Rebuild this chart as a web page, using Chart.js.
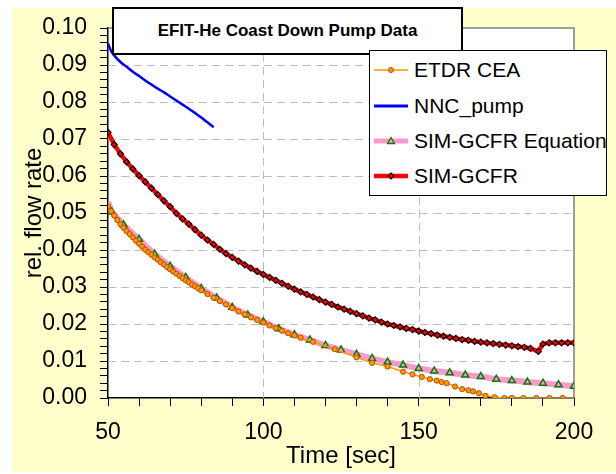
<!DOCTYPE html>
<html>
<head>
<meta charset="utf-8">
<script src="https://cdn.jsdelivr.net/npm/chart.js@4.4.0/dist/chart.umd.min.js"></script>
<style>
  body { margin: 0; background: #fff; }
  #wrap { position: relative; width: 616px; height: 474px; font-family: 'Liberation Sans', Arial, sans-serif; }
  #bg { position: absolute; left: 12px; top: 8px; width: 604px; height: 464px; background: #FFFFCC; }
  #chart { position: absolute; left: 0; top: 0; }
  #title { position: absolute; left: 112px; top: 7px; width: 351px; height: 48px; box-sizing: border-box;
           border: 2px solid #000; background: #fff; font-weight: bold; font-size: 17px;
           text-align: center; line-height: 44px; }
  #legend { position: absolute; left: 369px; top: 50px; width: 238px; height: 146px; box-sizing: border-box;
            border: 1px solid #000; background: #fff; }
  .item { position: absolute; left: 4px; height: 36px; display: flex; align-items: center;
          font-size: 21px; white-space: nowrap; }
  .item svg { margin-right: 6px; }
</style>
</head>
<body>
<div id="wrap">
  <div id="bg"></div>
  <canvas id="chart" width="616" height="474"></canvas>
  <div id="title">EFIT-He Coast Down Pump Data</div>
  <div id="legend">
    <div class="item" style="top:1px">
      <svg width="34" height="14"><line x1="0" y1="7" x2="34" y2="7" stroke="#FF9900" stroke-width="1.5"/><circle cx="17" cy="7" r="2.5" fill="#FF9900" stroke="#B84C00" stroke-width="1"/></svg>ETDR CEA</div>
    <div class="item" style="top:37px">
      <svg width="34" height="14"><line x1="0" y1="7" x2="34" y2="7" stroke="#0000FF" stroke-width="3"/></svg>NNC_pump</div>
    <div class="item" style="top:72px">
      <svg width="34" height="14"><line x1="0" y1="7" x2="34" y2="7" stroke="#FF99CC" stroke-width="5"/><polygon points="17,3.5 20.5,9.5 13.5,9.5" fill="none" stroke="#008000" stroke-width="1.3"/></svg>SIM-GCFR Equation</div>
    <div class="item" style="top:107px">
      <svg width="34" height="14"><line x1="0" y1="7" x2="34" y2="7" stroke="#FF0000" stroke-width="4.5"/><polygon points="17,4 20,7 17,10 14,7" fill="#FF0000" stroke="#000" stroke-width="1.2"/></svg>SIM-GCFR</div>
  </div>
</div>
<script>
// ETDR CEA
const etdrTime = [50, 51, 52, 53, 54, 55, 56, 57, 58, 59, 60, 61, 62, 63, 64, 65, 66, 67, 68, 69, 70,
  71, 72, 73, 74, 75, 76, 77, 78, 79, 80, 82, 84, 86, 88, 90, 92, 94, 96, 98, 100, 102, 104, 106, 108, 110,
  112, 116, 123, 130, 135, 140, 145, 148, 151, 153.6, 155.8, 157.4, 159, 161.7, 164, 166, 167.5, 169.4,
  171.5, 174.5, 177.6, 180, 183.7, 187.9, 192.1, 196.4, 201.5];
const etdrFlow = [0.0518, 0.0505, 0.0493, 0.0481, 0.0470, 0.0460, 0.0451, 0.0443, 0.0434, 0.0425, 0.0417,
  0.0409, 0.0401, 0.0394, 0.0387, 0.0380, 0.0374, 0.0367, 0.0361, 0.0354, 0.0348, 0.0342, 0.0336, 0.0330,
  0.0324, 0.0318, 0.0313, 0.0307, 0.0302, 0.0297, 0.0291, 0.0281, 0.0271, 0.0262, 0.0253, 0.0243, 0.0234,
  0.0226, 0.0218, 0.0211, 0.0204, 0.0196, 0.0189, 0.0182, 0.0175, 0.0169,
  0.0163, 0.0152, 0.0132, 0.0110, 0.0095, 0.0085, 0.0071, 0.0064, 0.0057, 0.0051, 0.0047, 0.0043, 0.0040,
  0.0031, 0.0024, 0.0021, 0.0018, 0.0013, 0.0006, 0.0002, 0, 0, 0, 0, 0, 0, 0];

// NNC_pump
const nncTime = [50, 51, 52, 54, 56, 58, 60, 62, 64, 66, 68, 70, 72, 74, 76, 78, 80, 82, 84];
const nncFlow = [0.0958, 0.0938, 0.0926, 0.0908, 0.0895, 0.0882, 0.0870, 0.0858, 0.0847, 0.0836, 0.0826,
  0.0815, 0.0804, 0.0793, 0.0782, 0.0770, 0.0758, 0.0745, 0.0732];

// SIM-GCFR Equation
const eqTime = [50, 51.2, 55, 60, 65, 70, 75, 80, 85, 90, 95, 100, 105, 110, 115, 120, 125, 130, 135, 140,
  145, 150, 155, 160, 165, 170, 175, 180, 185, 190, 195, 200];
const eqFlow = [0.0530, 0.0503, 0.0468, 0.0429, 0.0389, 0.0356, 0.0326, 0.0296, 0.0270, 0.0245, 0.0224,
  0.0206, 0.0187, 0.0171, 0.0157, 0.0142, 0.0130, 0.0118, 0.0107, 0.0097, 0.0089, 0.0080, 0.0073, 0.0068,
  0.0062, 0.0058, 0.0051, 0.0047, 0.0043, 0.0040, 0.0036, 0.0032];

// SIM-GCFR
const gcfrTime = [50, 52, 54, 56, 58, 60, 62, 64, 66, 68, 70, 72, 74, 76, 78, 80, 82, 84, 86, 88, 90,
  92, 94, 96, 98, 100, 102, 104, 106, 108, 110, 112, 114, 116, 118, 120, 122, 124, 126, 128, 130,
  132, 134, 136, 138, 140, 142, 144, 146, 148, 150, 152, 154, 156, 158, 160, 162, 164, 166, 168, 170,
  172, 174, 176, 178, 180, 182, 184, 186, 188.5, 190, 192, 194, 196, 198, 200, 201.5];
const gcfrFlow = [0.0718, 0.0685, 0.0660, 0.0638, 0.0619, 0.0601, 0.0584, 0.0567, 0.0550, 0.0533, 0.0517,
  0.0499, 0.0484, 0.0470, 0.0455, 0.0440, 0.0427, 0.0415, 0.0402, 0.0390, 0.0380,
  0.0370, 0.0360, 0.0351, 0.0342, 0.0334, 0.0326, 0.0318, 0.0310, 0.0302, 0.0294,
  0.0287, 0.0280, 0.0273, 0.0266, 0.0259, 0.0253, 0.0246, 0.0240, 0.0234, 0.0228,
  0.0222, 0.0216, 0.0211, 0.0205, 0.0200, 0.0196, 0.0192, 0.0188, 0.0185, 0.0181,
  0.0177, 0.0174, 0.0170, 0.0167, 0.0164, 0.0161, 0.0158, 0.0156, 0.0153, 0.0151,
  0.0149, 0.0147, 0.0145, 0.0143, 0.0141, 0.0139, 0.0137, 0.0134, 0.0126, 0.0146,
  0.0149, 0.0149, 0.0149, 0.0149, 0.0149, 0.0149];

const xLabels = [50, 100, 150, 200];
const xGridLines = [100, 150];
const yGridLines = [0.01, 0.02, 0.03, 0.04, 0.05, 0.06, 0.07, 0.08, 0.09];

const pts = (xs, ys) => xs.map((x, i) => ({ x: x, y: ys[i] }));
const inRange = c => c.raw && c.raw.x <= 200;

// white plot area, dashed grid, grey top/right frame
const plotFrame = {
  id: 'plotFrame',
  beforeDraw(chart) {
    const a = chart.chartArea, ctx = chart.ctx;
    ctx.save();
    ctx.fillStyle = '#fff';
    ctx.fillRect(a.left, a.top, a.right - a.left, a.bottom - a.top);
    ctx.restore();
  },
  beforeDatasetsDraw(chart) {
    const a = chart.chartArea, ctx = chart.ctx;
    const xs = chart.scales.x, ys = chart.scales.y;
    ctx.save();
    ctx.strokeStyle = '#BDBDBD';
    ctx.lineWidth = 1;
    ctx.setLineDash([8, 5]);
    xGridLines.forEach(v => {
      const px = Math.round(xs.getPixelForValue(v)) + 0.5;
      ctx.beginPath();
      ctx.moveTo(px, a.top);
      ctx.lineTo(px, a.bottom);
      ctx.stroke();
    });
    yGridLines.forEach(v => {
      const py = Math.round(ys.getPixelForValue(v)) + 0.5;
      ctx.beginPath();
      ctx.moveTo(a.left, py);
      ctx.lineTo(a.right, py);
      ctx.stroke();
    });
    ctx.setLineDash([]);
    ctx.strokeStyle = '#808080';
    ctx.lineWidth = 1.5;
    ctx.beginPath();
    ctx.moveTo(a.left, a.top);
    ctx.lineTo(a.right, a.top);
    ctx.lineTo(a.right, a.bottom);
    ctx.stroke();
    ctx.restore();
  }
};

Chart.defaults.font.family = "'Liberation Sans', Arial, sans-serif";
Chart.defaults.color = '#000';

new Chart(document.getElementById('chart'), {
  type: 'line',
  data: {
    datasets: [
      {
        label: 'ETDR CEA',
        data: pts(etdrTime, etdrFlow),
        borderColor: '#FF9900',
        borderWidth: 1.5,
        pointStyle: 'circle',
        pointRadius: c => inRange(c) ? 2.6 : 0,
        pointBackgroundColor: '#FF9900',
        pointBorderColor: '#B84C00',
        pointBorderWidth: 1,
        order: 1
      },
      {
        label: 'NNC_pump',
        data: pts(nncTime, nncFlow),
        borderColor: '#0000FF',
        borderWidth: 2.5,
        pointRadius: 0,
        cubicInterpolationMode: 'monotone',
        order: 3
      },
      {
        label: 'SIM-GCFR Equation',
        data: pts(eqTime, eqFlow),
        borderColor: '#FF99CC',
        borderWidth: 6,
        pointStyle: 'triangle',
        pointRadius: c => c.dataIndex === 0 ? 0 : 4,
        pointBackgroundColor: 'rgba(0,0,0,0)',
        pointBorderColor: '#008000',
        pointBorderWidth: 1.5,
        order: 2
      },
      {
        label: 'SIM-GCFR',
        data: pts(gcfrTime, gcfrFlow),
        borderColor: '#FF0000',
        borderWidth: 4.5,
        pointStyle: 'rectRot',
        pointRadius: c => inRange(c) ? 3 : 0,
        pointBackgroundColor: '#FF0000',
        pointBorderColor: '#000',
        pointBorderWidth: 1.2,
        order: 0
      }
    ]
  },
  options: {
    responsive: false,
    animation: false,
    devicePixelRatio: 1,
    layout: { padding: { top: 28, right: 42, left: 0, bottom: 0 } },
    elements: { line: { tension: 0 } },
    plugins: {
      legend: { display: false },
      tooltip: { enabled: false }
    },
    scales: {
      x: {
        type: 'linear',
        min: 50,
        max: 200,
        afterFit: s => { s.height = 76; },
        ticks: {
          stepSize: 10,
          autoSkip: false,
          maxRotation: 0,
          padding: 13,
          font: { size: 23 },
          callback: v => xLabels.includes(v) ? String(v) : ''
        },
        grid: {
          color: 'rgba(0,0,0,0)',
          tickColor: '#000',
          tickLength: 8
        },
        border: { display: true, color: '#000', width: 1.5 },
        title: { display: true, text: 'Time [sec]', font: { size: 24 }, padding: { top: 0, bottom: 3 } }
      },
      y: {
        min: 0,
        max: 0.1,
        afterFit: s => { s.width = 108; },
        ticks: {
          stepSize: 0.002,
          autoSkip: false,
          padding: 13,
          font: { size: 23 },
          callback: v => {
            const k = Math.round(v * 1000);
            return k % 10 === 0 ? (k / 1000).toFixed(2) : '';
          }
        },
        grid: {
          color: 'rgba(0,0,0,0)',
          tickColor: '#000',
          tickLength: 8
        },
        border: { display: true, color: '#000', width: 1.5 },
        title: { display: true, text: 'rel. flow rate', font: { size: 24 }, padding: { top: 20, bottom: 0 } }
      }
    }
  },
  plugins: [plotFrame]
});
</script>
</body>
</html>
